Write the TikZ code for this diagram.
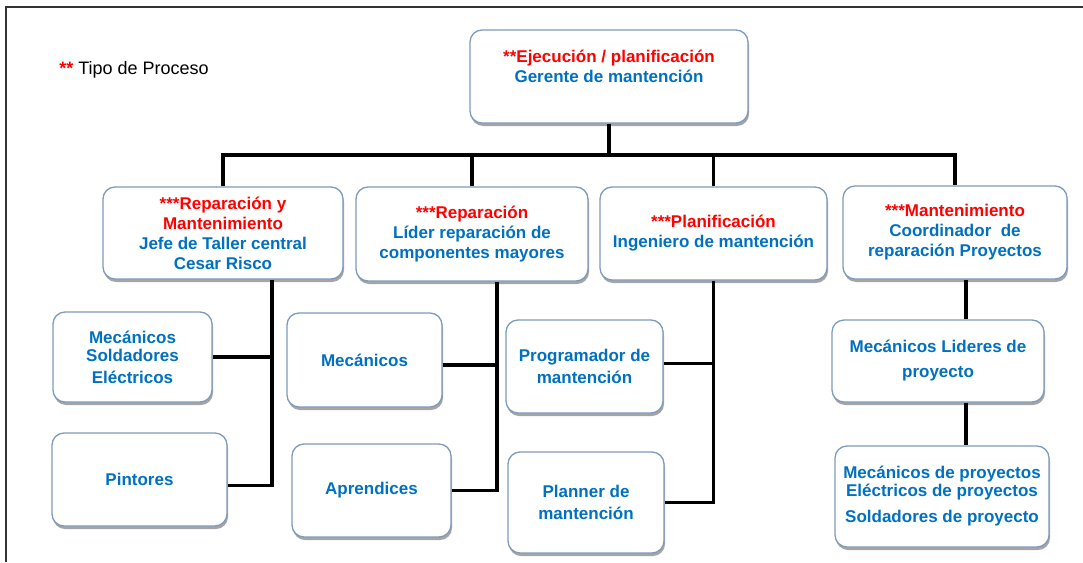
\documentclass[tikz,border=0pt]{standalone}
\usepackage{fontspec}
\setmainfont{Liberation Sans}
\usepackage{tikz}
\usetikzlibrary{shadows, positioning}
\definecolor{rojo}{RGB}{255,0,0}
\definecolor{azul}{RGB}{0,112,192}
\definecolor{bordecaja}{RGB}{125,155,188}
\tikzstyle{caja} = [rectangle, rounded corners=12pt, draw=bordecaja, line width=1.3pt, fill=white, inner sep=0pt, align=center, text=azul, font=\bfseries\fontsize{17}{20}\selectfont, drop shadow={shadow xshift=1pt, shadow yshift=-3pt, opacity=0.5, fill=black!70}]
\tikzstyle{linea} = [line width=3.5pt, black]

\begin{document}
\begin{tikzpicture}[x=1pt, y=-1pt]
\useasboundingbox (0,0) rectangle (1083,562);
\draw[line width=1.6pt, black!80] (6,562) -- (6,7) -- (1083,7);

% Leyenda
\node (leyenda) at (134,69.5) [font=\fontsize{18}{21}\selectfont] {\textcolor{rojo}{\bfseries **} Tipo de Proceso};

% Nodo principal
\node (gerente) [caja, minimum width=278pt, minimum height=93pt] at (609,76.5) {\textcolor{rojo}{**Ejecución / planificación}\\Gerente de mantención\\\mbox{}};

% Segundo nivel
\node (jefe) [caja, minimum width=240pt, minimum height=92pt] at (223,233) {\textcolor{rojo}{***Reparación y}\\\textcolor{rojo}{Mantenimiento}\\Jefe de Taller central\\Cesar Risco};
\node (lider) [caja, minimum width=232pt, minimum height=94pt] at (472,234) {\textcolor{rojo}{***Reparación}\\Líder reparación de\\componentes mayores};
\node (ingeniero) [caja, minimum width=227pt, minimum height=93pt] at (713.5,233.5) {\textcolor{rojo}{***Planificación}\\Ingeniero de mantención};
\node (coordinador) [caja, minimum width=224pt, minimum height=93pt] at (955,232.5) {\textcolor{rojo}{***Mantenimiento}\\Coordinador\ \ de\\reparación Proyectos};

% Tercer nivel
\node (mecsold) [caja, minimum width=159pt, minimum height=90pt] at (132.5,357) {Mecánicos\\[-2pt]Soldadores\\[2pt]Eléctricos};
\node (pintores) [caja, minimum width=175pt, minimum height=93pt] at (139.5,479.5) {Pintores};
\node (mecanicos) [caja, minimum width=155pt, minimum height=94pt] at (364.5,360) {Mecánicos};
\node (aprendices) [caja, minimum width=159pt, minimum height=93pt] at (371.5,490.5) {Aprendices};
\node (programador) [caja, minimum width=157pt, minimum height=93pt] at (584.5,366.5) {Programador de\\[2pt]mantención};
\node (planner) [caja, minimum width=156pt, minimum height=101pt] at (586,502.5) {Planner de\\[2pt]mantención};
\node (lideres) [caja, minimum width=212pt, minimum height=82pt] at (938,361) {Mecánicos Lideres de\\[5pt]proyecto};
\node (proyectos) [caja, minimum width=214pt, minimum height=101pt] at (942,496.5) {Mecánicos de proyectos\\[-2pt]Eléctricos de proyectos\\[6pt]Soldadores de proyecto};

% Conectores
\coordinate (bus) at (0,155);
\draw [linea] (gerente.south) -- (gerente.south |- bus);
\draw [linea] (jefe.north) |- (coordinador.north |- bus) -- (coordinador.north);
\draw [linea] (lider.north) -- (lider.north |- bus);
\draw [linea] (ingeniero.north) -- (ingeniero.north |- bus);

\coordinate (col1) at ([xshift=49pt]jefe.south);
\draw [linea] (col1) |- ([yshift=-6pt]pintores.east);
\draw [linea] (mecsold.east) -- (mecsold.east -| col1);

\coordinate (col2) at ([xshift=25pt]lider.south);
\draw [linea] (col2) |- (aprendices.east);
\draw [linea] ([yshift=-5pt]mecanicos.east) -- ([yshift=-5pt]mecanicos.east -| col2);

\draw [linea] (ingeniero.south) |- (planner.east);
\draw [linea] ([yshift=3pt]programador.east) -- ([yshift=3pt]programador.east -| ingeniero.south);

\coordinate (col4) at ([xshift=11pt]coordinador.south);
\draw [linea] (col4) -- (col4 |- lideres.north);
\draw [linea] (col4 |- lideres.south) -- (col4 |- proyectos.north);

\end{tikzpicture}
\end{document}
